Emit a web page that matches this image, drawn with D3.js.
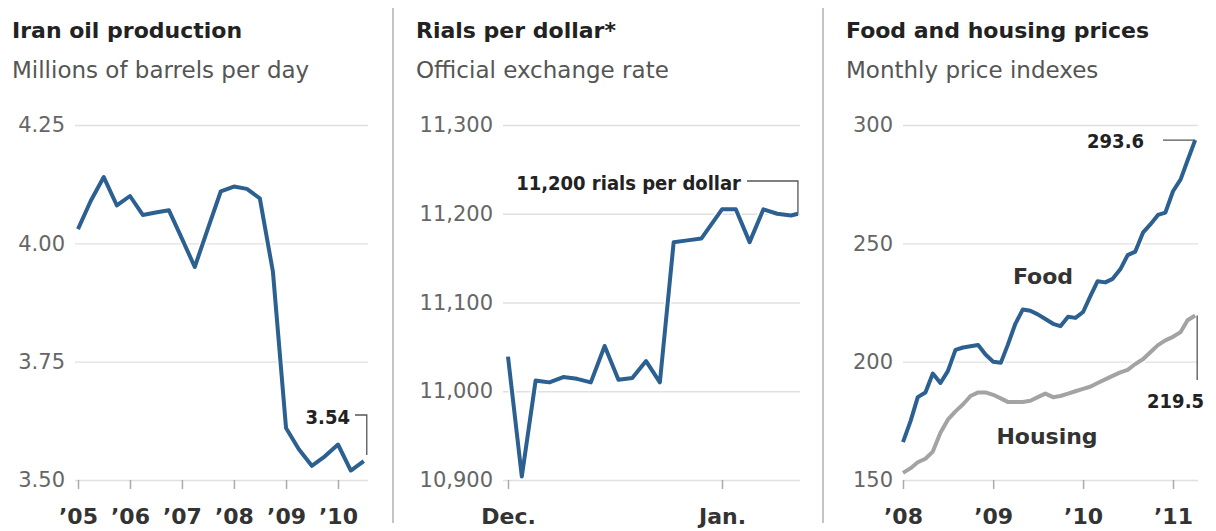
<!DOCTYPE html>
<html>
<head>
<meta charset="utf-8">
<script src="https://cdn.jsdelivr.net/npm/d3@7"></script>
<style>
  body { margin: 0; background: #fff; }
  svg { display: block; }
</style>
</head>
<body>
<svg id="chart" width="1216" height="531"></svg>
<script>
// ---- data ----
var oilDates = ["2005-01-01","2005-04-01","2005-07-01","2005-10-01",
                "2006-01-01","2006-04-01","2006-07-01","2006-10-01",
                "2007-01-01","2007-04-01","2007-07-01","2007-10-01",
                "2008-01-01","2008-04-01","2008-07-01","2008-10-01",
                "2009-01-01","2009-04-01","2009-07-01","2009-10-01",
                "2010-01-01","2010-04-01","2010-07-01"];
var oilValues = [4.03, 4.09, 4.14, 4.08,
                 4.10, 4.06, 4.065, 4.07,
                 4.01, 3.95, 4.03, 4.11,
                 4.12, 4.115, 4.095, 3.94,
                 3.61, 3.565, 3.53, 3.55,
                 3.575, 3.52, 3.54];
var oilTicks = [3.5, 3.75, 4.0, 4.25];
var oilYears = ["2005-01-01","2006-01-01","2007-01-01","2008-01-01","2009-01-01","2010-01-01"];

var rialDates = ["2010-12-01","2010-12-03","2010-12-05","2010-12-06","2010-12-07",
                 "2010-12-09","2010-12-11","2010-12-13","2010-12-15","2010-12-17",
                 "2010-12-19","2010-12-21","2010-12-23","2010-12-25","2010-12-27",
                 "2010-12-29","2011-01-01","2011-01-03","2011-01-05","2011-01-07",
                 "2011-01-09","2011-01-11","2011-01-12"];
var rialValues = [11039, 10904, 11012, 11011, 11010,
                  11016, 11014, 11010, 11051, 11013,
                  11015, 11034, 11010, 11168, 11170,
                  11172, 11205, 11205, 11168, 11205,
                  11200, 11198, 11200];
var rialTicks = [10900, 11000, 11100, 11200, 11300];
var rialMonths = ["2010-12-01", "2011-01-01"];

var priceMonths = ["2008-01","2008-02","2008-03","2008-04","2008-05","2008-06",
                   "2008-07","2008-08","2008-09","2008-10","2008-11","2008-12",
                   "2009-01","2009-02","2009-03","2009-04","2009-05","2009-06",
                   "2009-07","2009-08","2009-09","2009-10","2009-11","2009-12",
                   "2010-01","2010-02","2010-03","2010-04","2010-05","2010-06",
                   "2010-07","2010-08","2010-09","2010-10","2010-11","2010-12",
                   "2011-01","2011-02","2011-03","2011-04"];
var foodValues = [166, 175, 185, 187, 195, 191, 196, 205, 206, 206.5, 207, 203,
                  200, 199.5, 207, 216, 222, 221.5, 220, 218, 216, 215, 219, 218.5,
                  221, 228, 234, 233.5, 235, 239, 245, 246.5, 254.5, 258, 262, 263,
                  272, 277, 285, 293.6];
var housingValues = [153, 155, 157.5, 159, 162, 170, 175.5, 179, 182, 185.5, 187, 187,
                     186, 184.5, 183, 183, 183, 183.5, 185, 186.5, 185, 185.5, 186.5, 187.5,
                     188.5, 189.5, 191, 192.5, 194, 195.5, 196.5, 199, 201, 204, 207, 209,
                     210.5, 212.5, 217.5, 219.5];
var priceTicks = [150, 200, 250, 300];
var priceYears = ["2008-01","2009-01","2010-01","2011-01"];

// ---- drawing ----
var svg = d3.select("#chart");
var parseDay = d3.timeParse("%Y-%m-%d");
var parseMonth = d3.timeParse("%Y-%m");
var BLUE = "#2b6090", GREY = "#a3a3a3";
var FONT = "DejaVu Sans, Verdana, sans-serif";
var COND = "DejaVu Sans Condensed, DejaVu Sans, sans-serif";
var plotTop = 125, plotBottom = 480;

function zip(dates, values, parse) {
  return dates.map(function(d, i) { return {date: parse(d), v: values[i]}; });
}

function drawPanel(p) {
  var g = svg.append("g");

  g.append("text").attr("x", p.left).attr("y", 38)
    .attr("font-family", FONT).attr("font-weight", "bold").attr("font-size", 22)
    .attr("fill", "#222").text(p.title);
  g.append("text").attr("x", p.left).attr("y", 78)
    .attr("font-family", FONT).attr("font-size", 23)
    .attr("fill", "#555").text(p.subtitle);

  var y = d3.scaleLinear().domain(p.yDomain).range([plotBottom, plotTop]);
  var x = d3.scaleTime().domain(p.xDomain).range(p.xRange);

  var ya = g.append("g")
    .attr("transform", "translate(" + p.gridLeft + ",0)")
    .call(d3.axisLeft(y).tickValues(p.yTicks).tickFormat(p.yFormat)
      .tickSize(-(p.gridRight - p.gridLeft)).tickPadding(10));
  ya.select(".domain").remove();
  ya.selectAll("line").attr("stroke", "#e0e0e0").attr("stroke-width", 1.3);
  ya.selectAll("text").attr("font-family", FONT).attr("font-size", 21).attr("fill", "#666");

  var xa = g.append("g")
    .attr("transform", "translate(0," + plotBottom + ")")
    .call(d3.axisBottom(x).tickValues(p.xTicks).tickFormat(p.xFormat)
      .tickSize(9).tickPadding(19));
  xa.select(".domain").remove();
  xa.selectAll("line").attr("stroke", "#aaa").attr("stroke-width", 1.5);
  xa.selectAll("text").attr("font-family", FONT).attr("font-weight", "bold")
    .attr("font-size", 22).attr("fill", "#333");

  var line = d3.line().x(function(d) { return x(d.date); }).y(function(d) { return y(d.v); });

  p.series.forEach(function(s) {
    g.append("path").datum(s.data).attr("d", line)
      .attr("fill", "none").attr("stroke", "#fff").attr("stroke-width", 7)
      .attr("stroke-linejoin", "round");
    g.append("path").datum(s.data).attr("d", line)
      .attr("fill", "none").attr("stroke", s.color).attr("stroke-width", 4)
      .attr("stroke-linejoin", "round");
  });

  return {g: g, x: x, y: y};
}

function note(g, x, y, anchor, text) {
  g.append("text").attr("x", x).attr("y", y).attr("text-anchor", anchor)
    .attr("font-family", COND).attr("font-weight", "bold").attr("font-size", 20)
    .attr("fill", "#222").text(text);
}
function bracket(g, pts) {
  g.append("path").attr("d", d3.line()(pts))
    .attr("fill", "none").attr("stroke", "#555").attr("stroke-width", 1.3);
}

// panel 1 - oil
var oil = zip(oilDates, oilValues, parseDay);
var p1 = drawPanel({
  left: 12, title: "Iran oil production", subtitle: "Millions of barrels per day",
  gridLeft: 75, gridRight: 368,
  yDomain: [3.5, 4.25], yTicks: oilTicks, yFormat: d3.format(".2f"),
  xDomain: [parseDay("2005-01-01"), parseDay("2010-01-01")], xRange: [78, 338],
  xTicks: oilYears.map(parseDay), xFormat: d3.timeFormat("\u2019%y"),
  series: [{data: oil, color: BLUE}]
});
var lastOil = oil[oil.length - 1];
var ox = p1.x(lastOil.date) + 3, oy = p1.y(lastOil.v);
note(p1.g, 350, 424, "end", d3.format(".2f")(lastOil.v));
bracket(p1.g, [[355, 415], [ox, 415], [ox, oy - 6]]);

// panel 2 - rials
var rial = zip(rialDates, rialValues, parseDay);
var p2 = drawPanel({
  left: 416, title: "Rials per dollar*", subtitle: "Official exchange rate",
  gridLeft: 503, gridRight: 800,
  yDomain: [10900, 11300], yTicks: rialTicks, yFormat: d3.format(","),
  xDomain: [parseDay("2010-12-01"), parseDay("2011-01-01")], xRange: [508, 722],
  xTicks: rialMonths.map(parseDay), xFormat: d3.timeFormat("%b."),
  series: [{data: rial, color: BLUE}]
});
var lastRial = rial[rial.length - 1];
var rx = p2.x(lastRial.date), ry = p2.y(lastRial.v);
note(p2.g, 741, 190, "end", d3.format(",")(lastRial.v) + " rials per dollar");
bracket(p2.g, [[747, 181], [rx, 181], [rx, ry]]);

// panel 3 - food and housing
var food = zip(priceMonths, foodValues, parseMonth);
var housing = zip(priceMonths, housingValues, parseMonth);
var p3 = drawPanel({
  left: 846, title: "Food and housing prices", subtitle: "Monthly price indexes",
  gridLeft: 903, gridRight: 1198,
  yDomain: [150, 300], yTicks: priceTicks, yFormat: d3.format("d"),
  xDomain: [parseMonth("2008-01"), parseMonth("2011-01")], xRange: [903, 1173],
  xTicks: priceYears.map(parseMonth), xFormat: d3.timeFormat("\u2019%y"),
  series: [{data: housing, color: GREY}, {data: food, color: BLUE}]
});
var lastFood = food[food.length - 1], lastHousing = housing[housing.length - 1];
var fx = p3.x(lastFood.date), fy = p3.y(lastFood.v);
note(p3.g, 1144, 148, "end", lastFood.v.toFixed(1));
bracket(p3.g, [[1163, fy], [fx, fy]]);
var hx = p3.x(lastHousing.date) + 2, hy = p3.y(lastHousing.v);
bracket(p3.g, [[hx, hy], [hx, 380]]);
note(p3.g, 1204, 408, "end", lastHousing.v.toFixed(1));

p3.g.append("text").attr("x", 1043).attr("y", 284).attr("text-anchor", "middle")
  .attr("font-family", FONT).attr("font-weight", "bold").attr("font-size", 22)
  .attr("fill", "#333").text("Food");
p3.g.append("text").attr("x", 1047).attr("y", 444).attr("text-anchor", "middle")
  .attr("font-family", FONT).attr("font-weight", "bold").attr("font-size", 22)
  .attr("fill", "#333").text("Housing");

// panel separators
[393, 823].forEach(function(sx) {
  svg.append("line").attr("x1", sx).attr("x2", sx).attr("y1", 8).attr("y2", 523)
    .attr("stroke", "#c4c4c4").attr("stroke-width", 2);
});
</script>
</body>
</html>
